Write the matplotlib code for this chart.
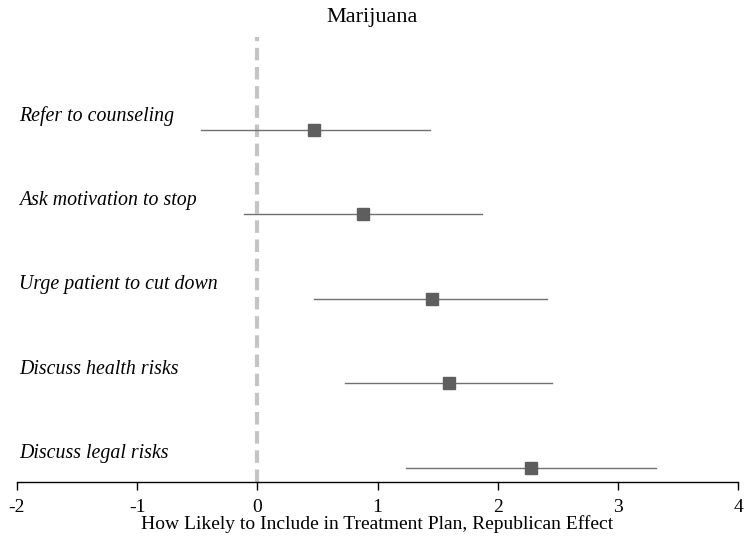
import matplotlib
matplotlib.use("Agg")
import matplotlib.pyplot as plt

# Republican effect estimates with 95% confidence bounds
items = ["Refer to counseling", "Ask motivation to stop", "Urge patient to cut down",
         "Discuss health risks", "Discuss legal risks"]
estimates = [0.47, 0.88, 1.45, 1.59, 2.28]
lower = [-0.47, -0.11, 0.47, 0.73, 1.24]
upper = [1.44, 1.87, 2.41, 2.45, 3.32]
xticks = [-2, -1, 0, 1, 2, 3, 4]

plt.rcParams["font.family"] = ["Liberation Serif", "DejaVu Serif"]

fig = plt.figure(figsize=(7.44, 5.36), dpi=100)
ax = fig.add_axes([0.0228, 0.1007, 0.9694, 0.8303])

ypos = list(range(len(items), 0, -1))

ax.axvline(0, color="#c4c4c4", lw=3, ls=(0, (3, 1.6)), zorder=1)

for y, est, lo, hi, name in zip(ypos, estimates, lower, upper, items):
    ax.plot([lo, hi], [y, y], color="#707070", lw=1, zorder=2)
    ax.plot(est, y, marker="s", ms=8, color="#5e5e5e", zorder=3)
    ax.text(-1.98, y + 0.17, name, style="italic", fontsize=14.3,
            ha="left", va="center")

ax.set_xlim(-2, 4)
ax.set_ylim(0.834, 6.1)
ax.set_xticks(xticks)
ax.set_xticklabels([str(t) for t in xticks], fontsize=14)
ax.set_yticks([])
ax.tick_params(axis="x", length=6, width=1, pad=6)
for side in ["left", "right", "top"]:
    ax.spines[side].set_visible(False)
ax.spines["bottom"].set_linewidth(1)

ax.set_xlabel("How Likely to Include in Treatment Plan, Republican Effect",
              fontsize=14, labelpad=-0.5)
fig.text(0.5, 0.968, "Marijuana", ha="center", va="center", fontsize=16)

fig.savefig("out.png", dpi=100)
